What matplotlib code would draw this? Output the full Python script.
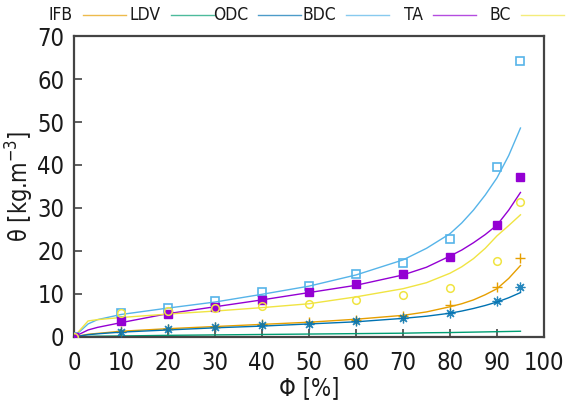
import matplotlib
matplotlib.use('Agg')
import matplotlib.pyplot as plt
from matplotlib.lines import Line2D

# measured points
phi = [0, 10, 20, 30, 40, 50, 60, 70, 80, 90, 95]
ifb = [0, 1.4, 1.9, 2.3, 2.9, 3.4, 4.0, 4.8, 7.4, 11.6, 18.3]
odc = [0, 1.2, 1.8, 2.2, 2.7, 3.1, 3.7, 4.4, 5.5, 8.3, 11.6]
bdc = [0, 5.6, 6.7, 8.4, 10.4, 11.9, 14.6, 17.3, 22.8, 39.5, 64.3]
ta = [0, 3.6, 5.3, 7.0, 8.6, 10.4, 12.2, 14.7, 18.5, 26.1, 37.2]
bc = [0, 5.5, 6.0, 6.8, 7.2, 7.7, 8.6, 9.7, 11.4, 17.6, 31.4]

# fitted curves
phi_fit = [0, 3, 5, 10, 20, 30, 40, 50, 60, 70, 75, 80, 82.5, 85, 87.5, 90, 92.5, 95]
ifb_fit = [0, 0.6, 0.8, 1.3, 1.9, 2.4, 2.9, 3.4, 4.1, 5.0, 5.8, 7.0, 7.7, 8.6, 9.8, 11.2, 13.6, 16.6]
ldv_fit = [0, 0.1, 0.15, 0.2, 0.35, 0.45, 0.55, 0.65, 0.75, 0.85, 0.95, 1.0, 1.05, 1.1, 1.15, 1.2, 1.25, 1.3]
odc_fit = [0, 0.5, 0.7, 1.1, 1.6, 2.1, 2.5, 3.0, 3.5, 4.3, 4.8, 5.5, 6.0, 6.6, 7.3, 8.1, 9.1, 10.3]
bdc_fit = [0, 3.0, 4.0, 5.2, 6.7, 8.1, 9.9, 11.8, 14.4, 17.9, 20.6, 24.0, 26.5, 29.5, 33.0, 37.0, 42.2, 48.6]
ta_fit = [0, 1.6, 2.2, 3.3, 5.4, 7.0, 8.6, 10.3, 12.0, 14.4, 16.2, 18.8, 20.2, 21.9, 23.8, 26.0, 29.5, 33.6]
bc_fit = [0, 3.7, 4.0, 4.5, 5.3, 6.0, 6.8, 7.7, 9.3, 11.2, 12.6, 14.8, 16.3, 18.2, 20.6, 23.5, 25.9, 28.4]

names = ['IFB', 'LDV', 'ODC', 'BDC', 'TA', 'BC']
colors = ['#E69F00', '#009E73', '#0072B2', '#56B4E9', '#9400D3', '#F0E442']

plt.rcParams['font.family'] = ['DejaVu Sans']
plt.rcParams['font.stretch'] = 'condensed'

fig = plt.figure(figsize=(5.69, 4.01), dpi=100)
ax = fig.add_axes([0.130, 0.160, 0.826, 0.750])

fits = [ifb_fit, ldv_fit, odc_fit, bdc_fit, ta_fit, bc_fit]
for i in range(len(names)):
    ax.plot(phi_fit, fits[i], color=colors[i], lw=1.0, zorder=2)

# data points
ax.plot(phi, ifb, ls='none', marker='+', color=colors[0], ms=6.5, mew=1.0, zorder=3)
ax.plot(phi, odc, ls='none', marker=(8, 2, 0), color=colors[2], ms=7, mew=0.9,
        alpha=0.85, zorder=3)
ax.plot(phi, bdc, ls='none', marker='s', color=colors[3], ms=5.5, mew=1.2,
        fillstyle='none', zorder=3)
ax.plot(phi, ta, ls='none', marker='s', color=colors[4], ms=5.5, zorder=3)
ax.plot(phi, bc, ls='none', marker='o', color=colors[5], ms=5.5, mew=1.1,
        fillstyle='none', zorder=3)

ax.set_xlim(0, 100)
ax.set_ylim(0, 70)
ax.set_xticks(range(0, 101, 10))
ax.set_yticks(range(0, 71, 10))
ax.tick_params(direction='in', length=6, width=1.2, color='#444444',
               labelsize=17, labelcolor='#1a1a1a', top=False, right=False)
ax.tick_params(axis='x', pad=10)
ax.tick_params(axis='y', pad=7)
for sp in ax.spines.values():
    sp.set_linewidth(1.6)
    sp.set_color('#444444')

ax.set_xlabel('Φ [%]', fontsize=17, labelpad=1, color='#1a1a1a')
ax.set_ylabel('θ [kg.m$^{-3}$]', fontsize=17, labelpad=1, color='#1a1a1a')

# gnuplot style key along the top: label then line sample
W, H = 569.0, 401.0
for i, name in enumerate(names):
    x_txt = 73 + 87.6 * i
    x0 = 83 + 87.6 * i
    fig.text(x_txt / W, 1 - 15 / H, name, ha='right', va='center', fontsize=12.5,
             color='#1a1a1a')
    fig.add_artist(Line2D([x0 / W, (x0 + 43) / W], [1 - 15 / H, 1 - 15 / H],
                          color=colors[i], lw=1.0, alpha=0.7))

fig.savefig('out.png', dpi=100)
